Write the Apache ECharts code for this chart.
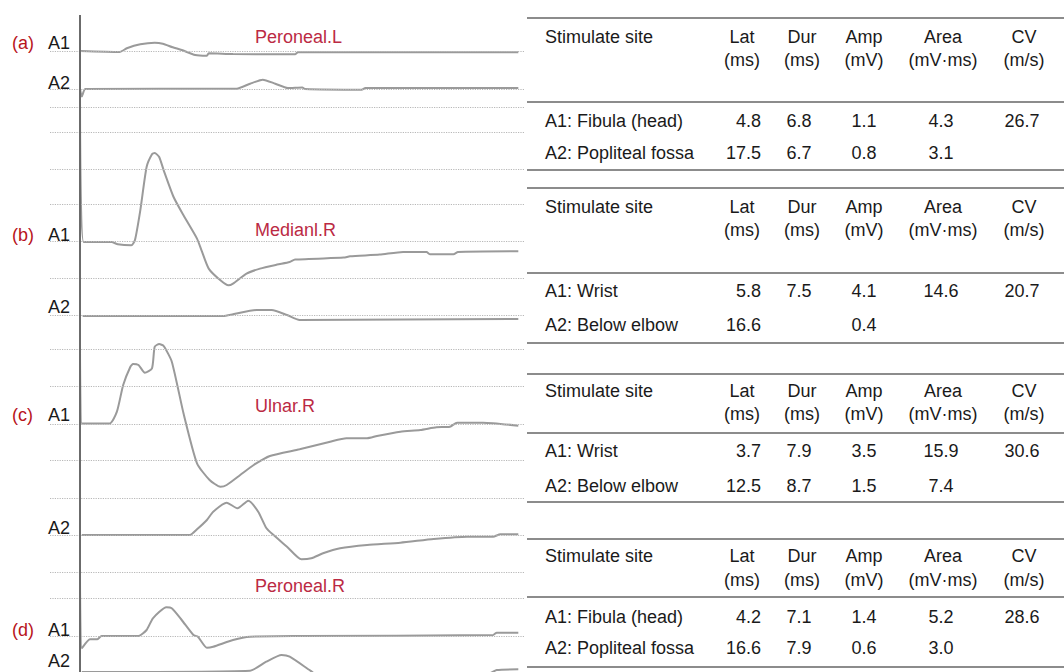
<!DOCTYPE html>
<html>
<head>
<meta charset="utf-8">
<script src="https://cdn.jsdelivr.net/npm/echarts@6/dist/echarts.min.js"></script>
<style>
  html, body { margin: 0; padding: 0; background: #fff; }
  #chart { width: 1064px; height: 672px; }
</style>
</head>
<body>
<div id="chart"></div>
<script>
// waveforms: [time ms, amplitude] relative to each trace's own baseline
const peronealL_A1 = [[0,0.1],[4.4,0],[5.2,0.37],[6.7,0.77],[8.3,0.93],[9.2,0.83],[10.3,0.47],[11.3,0.2],[12.8,-0.3],[14.1,-0.37],[14.3,-0.13],[17,-0.2],[23.9,-0.23],[24.2,-0.03],[48.7,-0.03]]
const peronealL_A2 = [[0,0],[0.2,-0.75],[0.6,0],[17.4,0.03],[18.9,0.53],[20.3,0.93],[21.7,0.53],[23.1,0.1],[24.7,0.16],[25,0],[31.3,-0.07],[31.7,0.1],[48.7,0.1]]
const medianR_A1 = [[0,14.47],[0.4,0],[3.5,0],[4.2,-0.23],[5.7,-0.33],[6.1,0.17],[6.7,3.17],[7.4,7.5],[8,8.77],[8.3,8.9],[8.8,8.5],[9.3,7.17],[10.4,4.5],[11.5,2.67],[13,0.34],[13.5,-0.83],[14.3,-2.66],[15.6,-3.83],[16.5,-4.33],[17,-4.16],[18.5,-3.16],[20,-2.66],[21.9,-2.26],[23.3,-2],[23.9,-1.76],[29.3,-1.56],[30,-1.43],[33.3,-1.26],[35.9,-1],[38.5,-1],[38.9,-1.23],[41.5,-1.23],[42,-1],[48.7,-0.93]]
const medianR_A2 = [[0.3,0],[15.9,0],[17,0.17],[19.6,0.6],[21.3,0.6],[23,0.1],[24.4,-0.4],[48.7,-0.3]]
const ulnarR_A1 = [[0,8.35],[0.2,0],[3.3,0],[4.1,1.18],[4.8,3.85],[5.6,5.68],[5.9,5.95],[6.5,5.85],[7.2,5.08],[8,5.52],[8.3,7.68],[8.8,7.95],[9.3,7.75],[10.2,6.18],[11.5,1.02],[13,-3.98],[14.4,-5.65],[15.6,-6.32],[16.3,-6.15],[17.8,-5.15],[19.3,-4.15],[21.1,-3.25],[24.4,-2.58],[27.8,-1.82],[29.6,-1.48],[31.9,-1.48],[33,-1.25],[35.6,-0.82],[37.8,-0.65],[39.6,-0.38],[41.1,-0.32],[41.9,0.08],[44.8,0.08],[48.7,-0.22]]
const ulnarR_A2 = [[0.2,0],[12.2,0],[13,0.57],[14.1,1.5],[14.8,2.33],[16.3,3.23],[17.5,2.67],[18.7,3.43],[19.8,2.33],[20.7,0.7],[21.5,0],[23,-1.17],[24.6,-2.43],[25.7,-2.33],[27,-1.83],[28.9,-1.33],[31.9,-1],[35.6,-0.77],[39.3,-0.4],[43,-0.17],[45.9,-0.17],[46.7,0.07],[48.7,0.07]]
const peronealR_A1 = [[0,6.3],[0.2,-1.28],[1.1,-0.38],[1.9,-0.38],[2.4,-0.05],[6.5,-0.05],[7.4,0.55],[8.1,1.72],[9.6,2.82],[10.2,2.72],[11.3,1.55],[12.6,0.05],[13.1,-0.12],[14.1,-1.22],[14.8,-1.12],[17,-0.45],[18.9,-0.12],[24.4,-0.05],[45.9,0.05],[46.3,0.28],[48.7,0.28]]
const peronealR_A2 = [[0.2,0],[18.9,0.13],[20.7,1.03],[22.4,1.7],[23.3,1.53],[25.6,0.13],[27.2,-0.8],[35.6,-0.6],[45.6,-0.1],[46.3,0.2],[48.7,0.27]]

const traces = [peronealL_A1, peronealL_A2, medianR_A1, medianR_A2, ulnarR_A1, ulnarR_A2, peronealR_A1, peronealR_A2]
// baseline of each trace on the shared amplitude axis
const baselines = [62.0, 58.3, 43.0, 35.6, 24.85, 13.7, 3.65, 0]
// dotted reference rows
const gridRows = [62.03, 58.27, 56.47, 53.93, 50.27, 46.8, 43.03, 39.37, 35.7, 32.3, 28.6, 24.8, 21.13, 17.37, 13.7, 9.93, 7.37, 3.6]

const panelTags = ['(a)', '(b)', '(c)', '(d)']
const panelNames = ['Peroneal.L', 'Medianl.R', 'Ulnar.R', 'Peroneal.R']

// table contents
const colHead1 = ['Stimulate site', 'Lat', 'Dur', 'Amp', 'Area', 'CV']
const colHead2 = ['', '(ms)', '(ms)', '(mV)', '(mV·ms)', '(m/s)']
const sites = [['A1: Fibula (head)', 'A2: Popliteal fossa'], ['A1: Wrist', 'A2: Below elbow'], ['A1: Wrist', 'A2: Below elbow'], ['A1: Fibula (head)', 'A2: Popliteal fossa']]
const lat = [['4.8', '17.5'], ['5.8', '16.6'], ['3.7', '12.5'], ['4.2', '16.6']]
const dur = [['6.8', '6.7'], ['7.5', ''], ['7.9', '8.7'], ['7.1', '7.9']]
const amp = [['1.1', '0.8'], ['4.1', '0.4'], ['3.5', '1.5'], ['1.4', '0.6']]
const area = [['4.3', '3.1'], ['14.6', ''], ['15.9', '7.4'], ['5.2', '3.0']]
const cv = [['26.7', ''], ['20.7', ''], ['30.6', ''], ['28.6', '']]

// layout
const FONT = '"Liberation Sans", Arial, sans-serif'
const tagLayout = [[43, 83], [235, 307], [415, 528], [630, 661]]
const titleY = [37, 230, 406, 586]
const tableLayout = [
  { top: 18, h1: 37, h2: 60, mid: 102, r1: 121, r2: 153, bottom: 170 },
  { top: 188, h1: 207, h2: 230, mid: 273, r1: 291, r2: 325, bottom: 343 },
  { top: 374, h1: 391, h2: 414, mid: 433, r1: 451, r2: 486, bottom: 502 },
  { top: 539, h1: 556, h2: 580, mid: 597, r1: 617, r2: 648, bottom: 667 }
]
const headX = [545, 742, 802, 864, 943, 1024]
const valX = [545, 761, 799, 864, 941, 1022]
const valAlign = ['left', 'right', 'center', 'center', 'center', 'center']

const chart = echarts.init(document.getElementById('chart'), null, { renderer: 'svg' })

const txt = (x, y, text, color, align) => ({
  type: 'text', x: x, y: y, silent: true,
  style: { text: text, fill: color || '#1a1a1a', font: '18px ' + FONT, align: align || 'left', verticalAlign: 'middle' }
})
const rule = (y) => ({
  type: 'line', silent: true,
  shape: { x1: 527, y1: y, x2: 1064, y2: y },
  style: { stroke: '#8c8c8c', lineWidth: 2 }
})

let graphics = []
panelTags.forEach((tag, i) => {
  graphics.push(txt(12, tagLayout[i][0], tag, '#b8141c'))
  graphics.push(txt(48, tagLayout[i][0], 'A1'))
  graphics.push(txt(48, tagLayout[i][1], 'A2'))
  graphics.push(txt(255, titleY[i], panelNames[i], '#bb2a44'))
})
tableLayout.forEach((t, i) => {
  graphics.push(rule(t.top), rule(t.mid), rule(t.bottom))
  colHead1.forEach((h, c) => graphics.push(txt(headX[c], t.h1, h, null, c === 0 ? 'left' : 'center')))
  colHead2.forEach((h, c) => { if (h) graphics.push(txt(headX[c], t.h2, h, null, 'center')) })
  const cols = [sites[i], lat[i], dur[i], amp[i], area[i], cv[i]]
  cols.forEach((col, c) => {
    col.forEach((v, r) => { if (v) graphics.push(txt(valX[c], r === 0 ? t.r1 : t.r2, v, null, valAlign[c])) })
  })
})

let series = traces.map((d, i) => ({
  type: 'line',
  data: d.map(p => [p[0], p[1] + baselines[i]]),
  showSymbol: false,
  silent: true,
  smooth: 0.2,
  lineStyle: { color: '#9a9a9a', width: 2 },
  z: 3
}))
series.push({
  type: 'line',
  data: [],
  silent: true,
  z: 1,
  markLine: {
    silent: true,
    symbol: ['none', 'none'],
    label: { show: false },
    lineStyle: { color: '#b8b8b8', type: 'dotted', width: 1.2 },
    data: gridRows.map(v => ({ yAxis: v }))
  }
})
series.push({
  type: 'line',
  data: [],
  silent: true,
  z: 4,
  markLine: {
    silent: true,
    symbol: ['none', 'none'],
    label: { show: false },
    lineStyle: { color: '#6b6b6b', type: 'solid', width: 2 },
    data: [{ xAxis: 0 }]
  }
})

const option = {
  animation: false,
  backgroundColor: '#fff',
  grid: { left: 50, right: 539, top: 15, bottom: 0 },
  xAxis: { type: 'value', min: -3.333, max: 49.444, show: false },
  yAxis: { type: 'value', min: 0, max: 65.7, show: false },
  series: series,
  graphic: graphics
}
chart.setOption(option)
</script>
</body>
</html>
